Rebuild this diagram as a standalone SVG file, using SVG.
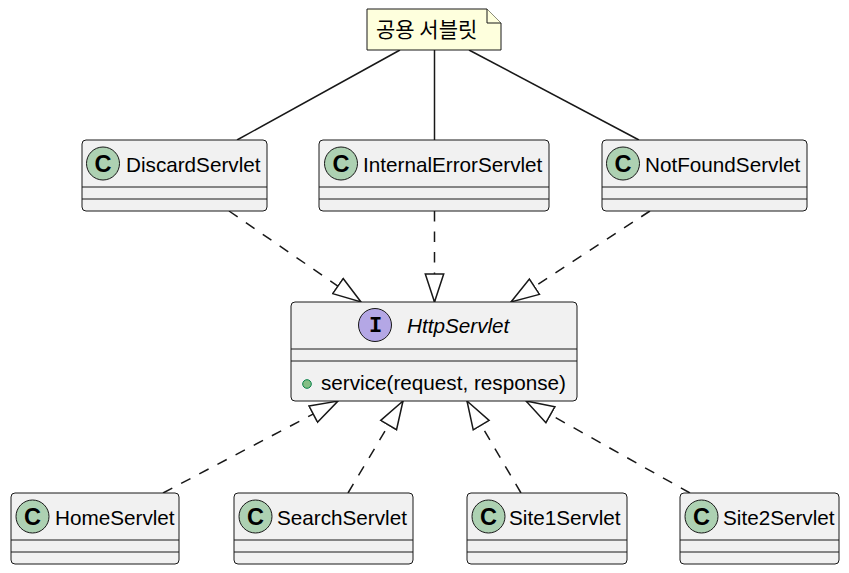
<svg xmlns="http://www.w3.org/2000/svg" width="849" height="573" viewBox="0 0 849 573">
<style>
.box{fill:#F1F1F1;stroke:#181818;stroke-width:1}
.sep{stroke:#181818;stroke-width:1}
.cc{fill:#ADD1B2;stroke:#181818;stroke-width:1}
.ci{fill:#B4A7E5;stroke:#181818;stroke-width:1}
.cl{font-family:"Liberation Sans",Arial,sans-serif;font-weight:bold;font-size:23.5px;fill:#000;text-anchor:middle}
.il{font-family:"Liberation Mono","Courier New",monospace;font-weight:bold;font-size:22px;fill:#000;text-anchor:middle}
.nm{font-family:"Liberation Sans",Arial,sans-serif;font-size:20.7px;fill:#000}
.note{fill:#FEFFDD;stroke:#181818;stroke-width:1}
.nt{font-family:"Noto Sans CJK KR","Noto Sans",sans-serif;font-size:21px;fill:#000}
.dash{fill:none;stroke:#181818;stroke-width:1.5;stroke-dasharray:10.5,10;marker-end:url(#tri)}
.solid{fill:none;stroke:#181818;stroke-width:1.5}
</style>
<defs>
<marker id="tri" markerUnits="userSpaceOnUse" markerWidth="32" markerHeight="22" refX="29" refY="10.5" orient="auto" viewBox="0 0 32 22">
<path d="M1,1.3 L29,10.5 L1,19.7 Z" fill="#FFFFFF" stroke="#181818" stroke-width="1.5" stroke-dasharray="none"/>
</marker>
</defs>

<g id="connectors">
<line class="solid" x1="400" y1="50" x2="237" y2="140"/>
<line class="solid" x1="434.5" y1="50" x2="434.5" y2="140"/>
<line class="solid" x1="469" y1="50" x2="639" y2="140"/>
<line class="dash" x1="229" y1="211" x2="361" y2="302"/>
<line class="dash" x1="434.5" y1="211" x2="434.5" y2="302"/>
<line class="dash" x1="650" y1="211" x2="511" y2="302"/>
<line class="dash" x1="163" y1="493" x2="338" y2="401"/>
<line class="dash" x1="348" y1="493" x2="403" y2="401"/>
<line class="dash" x1="521" y1="493" x2="467" y2="401"/>
<line class="dash" x1="690" y1="493" x2="526" y2="401"/>
</g>

<g id="note">
<path class="note" d="M367,9 L487,9 L501,23 L501,50 L367,50 Z"/>
<path class="note" d="M487,9 L487,23 L501,23"/>
<text class="nt" x="376" y="37">공용 서블릿</text>
</g>

<g id="DiscardServlet">
<rect class="box" x="82" y="140" width="185" height="71" rx="4"/>
<line class="sep" x1="82" y1="187" x2="267" y2="187"/>
<line class="sep" x1="82" y1="199" x2="267" y2="199"/>
<circle class="cc" cx="103" cy="163.5" r="16.5"/>
<text class="cl" x="103" y="172">C</text>
<text class="nm" x="126" y="172">DiscardServlet</text>
</g>

<g id="InternalErrorServlet">
<rect class="box" x="319" y="140" width="230" height="71" rx="4"/>
<line class="sep" x1="319" y1="187" x2="549" y2="187"/>
<line class="sep" x1="319" y1="199" x2="549" y2="199"/>
<circle class="cc" cx="341" cy="163.5" r="16.5"/>
<text class="cl" x="341" y="172">C</text>
<text class="nm" x="363" y="172">InternalErrorServlet</text>
</g>

<g id="NotFoundServlet">
<rect class="box" x="602" y="140" width="205" height="71" rx="4"/>
<line class="sep" x1="602" y1="187" x2="807" y2="187"/>
<line class="sep" x1="602" y1="199" x2="807" y2="199"/>
<circle class="cc" cx="623" cy="163.5" r="16.5"/>
<text class="cl" x="623" y="172">C</text>
<text class="nm" x="645" y="172">NotFoundServlet</text>
</g>

<g id="HttpServlet">
<rect class="box" x="291" y="302" width="286" height="99" rx="4"/>
<line class="sep" x1="291" y1="349" x2="577" y2="349"/>
<line class="sep" x1="291" y1="361" x2="577" y2="361"/>
<circle class="ci" cx="375" cy="325" r="16.5"/>
<text class="il" x="375.5" y="332">I</text>
<text class="nm" x="407" y="333" font-style="italic">HttpServlet</text>
<circle cx="307" cy="384" r="4.3" fill="#84BE84" stroke="#038048" stroke-width="1"/>
<text class="nm" x="321" y="390">service(request, response)</text>
</g>

<g id="HomeServlet">
<rect class="box" x="11" y="493" width="168" height="71" rx="4"/>
<line class="sep" x1="11" y1="540" x2="179" y2="540"/>
<line class="sep" x1="11" y1="552" x2="179" y2="552"/>
<circle class="cc" cx="32.5" cy="516.5" r="16.5"/>
<text class="cl" x="32.5" y="525">C</text>
<text class="nm" x="55" y="525">HomeServlet</text>
</g>

<g id="SearchServlet">
<rect class="box" x="234" y="493" width="179" height="71" rx="4"/>
<line class="sep" x1="234" y1="540" x2="413" y2="540"/>
<line class="sep" x1="234" y1="552" x2="413" y2="552"/>
<circle class="cc" cx="255.5" cy="516.5" r="16.5"/>
<text class="cl" x="255.5" y="525">C</text>
<text class="nm" x="277" y="525">SearchServlet</text>
</g>

<g id="Site1Servlet">
<rect class="box" x="467" y="493" width="160" height="71" rx="4"/>
<line class="sep" x1="467" y1="540" x2="627" y2="540"/>
<line class="sep" x1="467" y1="552" x2="627" y2="552"/>
<circle class="cc" cx="488.5" cy="516.5" r="16.5"/>
<text class="cl" x="488.5" y="525">C</text>
<text class="nm" x="509" y="525">Site1Servlet</text>
</g>

<g id="Site2Servlet">
<rect class="box" x="680" y="493" width="159" height="71" rx="4"/>
<line class="sep" x1="680" y1="540" x2="839" y2="540"/>
<line class="sep" x1="680" y1="552" x2="839" y2="552"/>
<circle class="cc" cx="701.5" cy="516.5" r="16.5"/>
<text class="cl" x="701.5" y="525">C</text>
<text class="nm" x="723" y="525">Site2Servlet</text>
</g>
</svg>
